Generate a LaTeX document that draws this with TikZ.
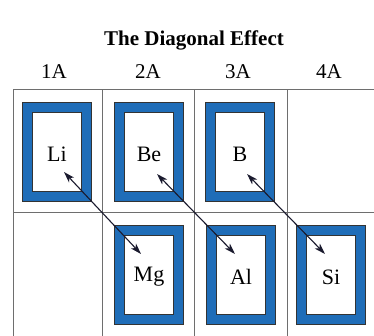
\documentclass[tikz,border=0pt]{standalone}
\usepackage{fontspec}
\setmainfont{Liberation Serif}
\usetikzlibrary{arrows.meta}
\definecolor{boxblue}{HTML}{1F6DB8}
\definecolor{gridgray}{HTML}{6E6E6E}
\definecolor{arrowcol}{HTML}{1A1A2E}
\tikzset{
  gridline/.style={draw=gridgray, line width=1pt},
  outerbox/.style={draw=black!80, fill=boxblue, line width=0.6pt, minimum width=69pt, minimum height=99pt, inner sep=0pt},
  innerbox/.style={draw=black!80, fill=white, line width=0.6pt, minimum width=49pt, minimum height=79pt, inner sep=0pt},
  elem/.style={font=\fontsize{22}{24}\selectfont, inner sep=0pt},
  colhead/.style={font=\fontsize{21}{24}\selectfont, inner sep=0pt},
  diag/.style={draw=arrowcol, line width=1.1pt, {Stealth[length=11pt,width=7pt,inset=3pt]}-{Stealth[length=11pt,width=7pt,inset=3pt]}}
}
\begin{document}
\begin{tikzpicture}[x=1pt,y=-1pt]
\useasboundingbox (0,0) rectangle (374,335);
\fill[white] (0,0) rectangle (374,335);
\node[font=\fontsize{21}{24}\selectfont\bfseries] (title) at (194,40) {The Diagonal Effect};
\node[colhead] (h1) at (54,72) {1A};
\node[colhead] (h2) at (148,72) {2A};
\node[colhead] (h3) at (238,72) {3A};
\node[colhead] (h4) at (329,72) {4A};
% grid
\begin{scope}
\clip (0,0) rectangle (374,335);
\draw[gridline] (13,89) -- (380,89);
\draw[gridline] (13,212) -- (380,212);
\draw[gridline] (13,89) -- (13,340);
\draw[gridline] (102,89) -- (102,340);
\draw[gridline] (194,89) -- (194,340);
\draw[gridline] (287,89) -- (287,340);
\end{scope}
% boxes
\foreach \n/\x/\y in {Li/57/152, Be/149/152, B/240/152, Mg/149/275, Al/241/275, Si/331/275}{
  \node[outerbox] (o\n) at (\x,\y) {};
  \node[innerbox] (i\n) at (\x,\y) {};
}
\node[elem] (Li) at (57,154) {Li};
\node[elem] (Be) at (149,154) {Be};
\node[elem] (B) at (240,154) {B};
\node[elem] (Mg) at (149,277) {Mg};
\node[elem] (Al) at (241,277) {Al};
\node[elem] (Si) at (331,277) {Si};
\coordinate (a1) at (64,172);
\coordinate (a2) at (141,254);
\coordinate (b1) at (157,174);
\coordinate (b2) at (235,254);
\coordinate (c1) at (247,174);
\coordinate (c2) at (325,254);
\draw[diag] (a1) -- (a2);
\draw[diag] (b1) -- (b2);
\draw[diag] (c1) -- (c2);
\end{tikzpicture}
\end{document}
